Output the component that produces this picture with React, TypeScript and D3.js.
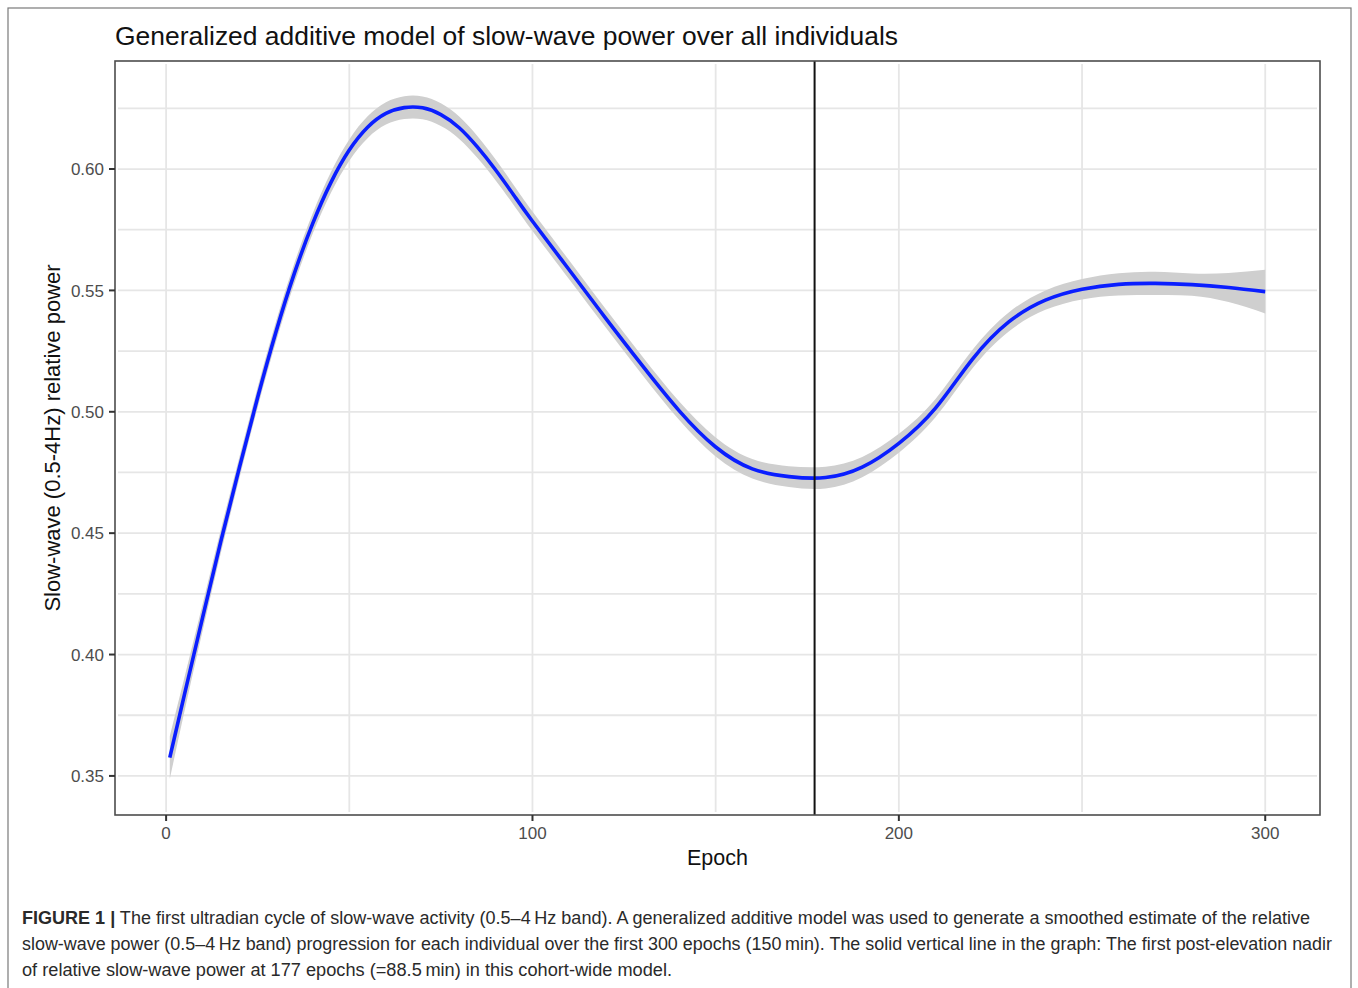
import React from "react";
import * as d3 from "d3";

// GAM fit: epoch -> relative slow-wave power
const epochs = [
  1, 5, 10, 15, 20, 25, 30, 35, 40, 45, 50, 55, 60, 65, 70, 75, 80, 85, 90,
  95, 100, 110, 120, 130, 140, 150, 160, 170, 180, 190, 200, 210, 220, 230,
  240, 250, 260, 270, 280, 290, 300,
];
const fitValues = [
  0.3575, 0.3835, 0.4155, 0.447, 0.477, 0.506, 0.533, 0.557, 0.5775, 0.5945,
  0.6078, 0.6172, 0.6229, 0.6253, 0.6252, 0.6224, 0.617, 0.609, 0.5995,
  0.589, 0.5785, 0.5585, 0.5385, 0.519, 0.5005, 0.4855, 0.4765, 0.4733,
  0.4729, 0.4772, 0.487, 0.5015, 0.5215, 0.537, 0.546, 0.5505, 0.5525,
  0.5529, 0.5524, 0.5512, 0.5495,
];
// half width of the confidence ribbon
const bandHalf = [
  0.0088, 0.007, 0.0055, 0.0048, 0.0044, 0.0042, 0.0042, 0.0042, 0.0042,
  0.0043, 0.0044, 0.0045, 0.0046, 0.0047, 0.0047, 0.0047, 0.0046, 0.0045,
  0.0043, 0.0041, 0.004, 0.0039, 0.0038, 0.0038, 0.0038, 0.0039, 0.004,
  0.0043, 0.0045, 0.0042, 0.0039, 0.0038, 0.0038, 0.0039, 0.004, 0.0042,
  0.0046, 0.0048, 0.0046, 0.006, 0.009,
];

const xTicks = [0, 100, 200, 300];
const xMinor = [50, 150, 250];
const yTicks = [0.35, 0.4, 0.45, 0.5, 0.55, 0.6];
const yMinor = [0.375, 0.425, 0.475, 0.525, 0.575, 0.625];
const nadirEpoch = 177;

const title = "Generalized additive model of slow-wave power over all individuals";
const xTitle = "Epoch";
const yTitle = "Slow-wave (0.5-4Hz) relative power";
const captionLines = [
  " The first ultradian cycle of slow-wave activity (0.5–4\u2009Hz band). A generalized additive model was used to generate a smoothed estimate of the relative",
  "slow-wave power (0.5–4\u2009Hz band) progression for each individual over the first 300 epochs (150\u2009min). The solid vertical line in the graph: The first post-elevation nadir",
  "of relative slow-wave power at 177 epochs (=88.5\u2009min) in this cohort-wide model.",
];

const W = 1358;
const H = 988;
const panel = { left: 115, right: 1320, top: 61, bottom: 815 };
const font = "'Liberation Sans', Arial, Helvetica, sans-serif";

export default function App() {
  const x = d3.scaleLinear().domain([-13.95, 314.95]).range([panel.left, panel.right]);
  const y = d3.scaleLinear().domain([0.3339, 0.6445]).range([panel.bottom, panel.top]);

  const pts = epochs.map((e, i) => ({ e, v: fitValues[i], h: bandHalf[i] }));

  const line = d3
    .line<{ e: number; v: number }>()
    .x((d) => x(d.e))
    .y((d) => y(d.v))
    .curve(d3.curveNatural);

  const area = d3
    .area<{ e: number; v: number; h: number }>()
    .x((d) => x(d.e))
    .y0((d) => y(d.v - d.h))
    .y1((d) => y(d.v + d.h))
    .curve(d3.curveNatural);

  const inset = 3;

  return (
    <div style={{ position: "absolute", left: 0, top: 0 }}>
      <svg width={W} height={H} style={{ display: "block", background: "#fff" }}>
        {/* outer frame */}
        <rect x={8} y={8} width={1343} height={1000} fill="none" stroke="#7a7a7a" strokeWidth={1.2} />

        {/* title */}
        <text x={115} y={45} fontFamily={font} fontSize={25} fill="#111" textLength={783} lengthAdjust="spacingAndGlyphs">
          {title}
        </text>

        {/* gridlines */}
        <g stroke="#e6e6e6" strokeWidth={1.8}>
          {[...xMinor, ...xTicks].map((t) => (
            <line key={"gx" + t} x1={x(t)} x2={x(t)} y1={panel.top + inset} y2={panel.bottom - inset} />
          ))}
          {[...yMinor, ...yTicks].map((t) => (
            <line key={"gy" + t} x1={panel.left + inset} x2={panel.right - inset} y1={y(t)} y2={y(t)} />
          ))}
        </g>

        {/* ribbon + fit */}
        <path d={area(pts) || ""} fill="#cfcfcf" />
        <path d={line(pts) || ""} fill="none" stroke="#0a1eff" strokeWidth={3.6} />

        {/* nadir line */}
        <line x1={x(nadirEpoch)} x2={x(nadirEpoch)} y1={panel.top} y2={panel.bottom} stroke="#111" strokeWidth={2} />

        {/* panel border */}
        <rect
          x={panel.left}
          y={panel.top}
          width={panel.right - panel.left}
          height={panel.bottom - panel.top}
          fill="none"
          stroke="#4d4d4d"
          strokeWidth={1.6}
        />

        {/* y axis */}
        <g fontFamily={font} fontSize={17} fill="#4d4d4d">
          {yTicks.map((t) => (
            <g key={"yt" + t}>
              <line x1={panel.left - 6} x2={panel.left} y1={y(t)} y2={y(t)} stroke="#333" strokeWidth={2} />
              <text x={panel.left - 11} y={y(t)} dy="0.36em" textAnchor="end">
                {t.toFixed(2)}
              </text>
            </g>
          ))}
        </g>

        {/* x axis */}
        <g fontFamily={font} fontSize={17} fill="#4d4d4d">
          {xTicks.map((t) => (
            <g key={"xt" + t}>
              <line x1={x(t)} x2={x(t)} y1={panel.bottom} y2={panel.bottom + 6} stroke="#333" strokeWidth={2} />
              <text x={x(t)} y={839} textAnchor="middle">
                {t}
              </text>
            </g>
          ))}
        </g>

        {/* axis titles */}
        <text x={(panel.left + panel.right) / 2} y={865} textAnchor="middle" fontFamily={font} fontSize={21.5} fill="#111">
          {xTitle}
        </text>
        <text
          transform={`translate(60,${(panel.top + panel.bottom) / 2}) rotate(-90)`}
          textAnchor="middle"
          fontFamily={font}
          fontSize={22}
          fill="#111"
        >
          {yTitle}
        </text>

        {/* caption */}
        <g fontFamily={font} fontSize={17.5} fill="#2a2a2a">
          <text x={22} y={924} textLength={1288} lengthAdjust="spacingAndGlyphs">
            <tspan fontWeight="bold">FIGURE 1 |</tspan>
            {captionLines[0]}
          </text>
          <text x={22} y={950} textLength={1310} lengthAdjust="spacingAndGlyphs">
            {captionLines[1]}
          </text>
          <text x={22} y={976} textLength={650} lengthAdjust="spacingAndGlyphs">
            {captionLines[2]}
          </text>
        </g>
      </svg>
    </div>
  );
}
